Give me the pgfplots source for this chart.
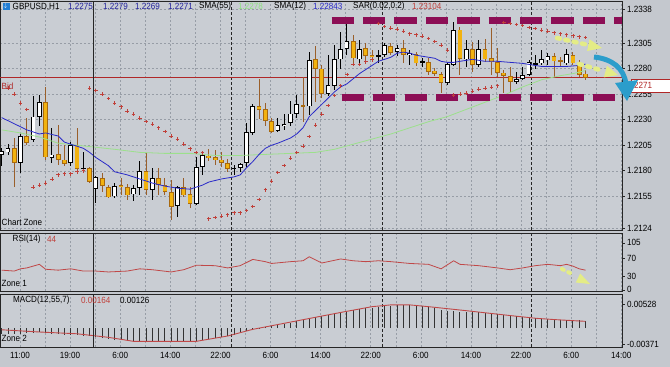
\documentclass[border=0pt]{standalone}
\usepackage{pgfplots}
\pgfplotsset{compat=1.18}
\usepackage{pgfplotstable}
\usepackage{fontspec}
\setmainfont[FakeStretch=0.9]{Liberation Sans}
\definecolor{bgout}{HTML}{C4C8CE}
\definecolor{bg}{HTML}{C9CDD3}
\definecolor{gridc}{HTML}{979DA6}
\definecolor{framec}{HTML}{262626}
\definecolor{bearfill}{HTML}{F2B20F}
\definecolor{bearedge}{HTML}{A8690F}
\definecolor{bearwick}{HTML}{9A5F2A}
\definecolor{sarc}{HTML}{C0403A}
\definecolor{smab}{HTML}{2A2AC8}
\definecolor{smag}{HTML}{9CE08C}
\definecolor{bidc}{HTML}{B02828}
\definecolor{magc}{HTML}{8C0E55}
\definecolor{yel}{HTML}{E4EC86}
\definecolor{arrowblue}{HTML}{2B9DCB}
\definecolor{rsic}{HTML}{C04848}
\definecolor{navy}{HTML}{23239E}

\pgfplotstableread{
i o h l c
0 1.2196 1.2202 1.2185 1.2199
1 1.2198 1.2206 1.2195 1.2202
3 1.2188 1.2216 1.2178 1.2214
5 1.2210 1.2253 1.2208 1.2233
6 1.2233 1.2254 1.2224 1.2247
8 1.2193 1.2222 1.2188 1.2196
11 1.2188 1.2208 1.2185 1.2205
13 1.2182 1.2198 1.2179 1.2183
15 1.2162 1.2175 1.2149 1.2174
18 1.2155 1.2168 1.2153 1.2165
21 1.2157 1.2166 1.2151 1.2163
22 1.2163 1.2190 1.2156 1.2180
24 1.2161 1.2183 1.2152 1.2173
28 1.2146 1.2165 1.2135 1.2164
31 1.2148 1.2194 1.2147 1.2184
32 1.2184 1.2197 1.2176 1.2195
37 1.2182 1.2186 1.2176 1.2183
38 1.2183 1.2188 1.2179 1.2187
39 1.2188 1.2227 1.2184 1.2218
40 1.2217 1.2245 1.2215 1.2243
44 1.2219 1.2232 1.2218 1.2225
45 1.2224 1.2236 1.2220 1.2226
46 1.2227 1.2248 1.2224 1.2236
47 1.2236 1.2254 1.2232 1.2245
49 1.2243 1.2296 1.2235 1.2288
52 1.2255 1.2293 1.2253 1.2264
53 1.2263 1.2303 1.2259 1.2289
54 1.2289 1.2316 1.2280 1.2299
55 1.2299 1.2325 1.2293 1.2307
57 1.2289 1.2308 1.2285 1.2299
60 1.2292 1.2298 1.2285 1.2293
61 1.2293 1.2305 1.2291 1.2303
63 1.2296 1.2303 1.2292 1.2300
65 1.2293 1.2298 1.2283 1.2295
67 1.2286 1.2290 1.2282 1.2287
71 1.2266 1.2286 1.2264 1.2284
72 1.2284 1.2325 1.2282 1.2318
74 1.2289 1.2308 1.2282 1.2299
76 1.2284 1.2308 1.2282 1.2299
82 1.2267 1.2277 1.2265 1.2270
83 1.2270 1.2282 1.2269 1.2274
84 1.2274 1.2288 1.2273 1.2286
85 1.2284 1.2293 1.2280 1.2285
86 1.2285 1.2298 1.2283 1.2289
87 1.2288 1.2295 1.2283 1.2292
90 1.2285 1.2299 1.2283 1.2294
}\bull

\pgfplotstableread{
i o h l c
2 1.2202 1.2212 1.2164 1.2188
4 1.2214 1.2232 1.2205 1.2207
7 1.2247 1.2262 1.2191 1.2193
9 1.2196 1.2225 1.2186 1.2191
10 1.2191 1.2205 1.2185 1.2187
12 1.2205 1.2222 1.2180 1.2182
14 1.2183 1.2184 1.2168 1.2169
16 1.2173 1.2178 1.2159 1.2165
17 1.2164 1.2166 1.2153 1.2154
19 1.2166 1.2173 1.2156 1.2164
20 1.2164 1.2167 1.2151 1.2156
23 1.2180 1.2197 1.2156 1.2161
25 1.2173 1.2183 1.2156 1.2166
26 1.2166 1.2173 1.2156 1.2159
27 1.2159 1.2171 1.2132 1.2145
29 1.2164 1.2173 1.2154 1.2156
30 1.2157 1.2164 1.2144 1.2148
33 1.2195 1.2201 1.2190 1.2193
34 1.2193 1.2200 1.2186 1.2191
35 1.2191 1.2198 1.2184 1.2188
36 1.2188 1.2192 1.2179 1.2182
41 1.2243 1.2270 1.2231 1.2240
42 1.2240 1.2246 1.2224 1.2229
43 1.2229 1.2232 1.2217 1.2218
48 1.2244 1.2272 1.2228 1.2243
50 1.2289 1.2302 1.2247 1.2280
51 1.2280 1.2283 1.2251 1.2255
56 1.2307 1.2313 1.2283 1.2290
58 1.2300 1.2305 1.2288 1.2292
59 1.2293 1.2298 1.2289 1.2291
62 1.2302 1.2305 1.2293 1.2295
64 1.2300 1.2308 1.2285 1.2293
66 1.2294 1.2296 1.2283 1.2285
68 1.2286 1.2290 1.2274 1.2277
69 1.2278 1.2281 1.2273 1.2275
70 1.2275 1.2277 1.2256 1.2266
73 1.2318 1.2321 1.2274 1.2289
75 1.2299 1.2306 1.2277 1.2284
77 1.2299 1.2309 1.2286 1.2289
78 1.2290 1.2320 1.2274 1.2286
79 1.2286 1.2300 1.2272 1.2276
80 1.2276 1.2279 1.2256 1.2273
81 1.2273 1.2282 1.2257 1.2267
88 1.2292 1.2295 1.2272 1.2287
89 1.2288 1.2291 1.2282 1.2287
91 1.2293 1.2296 1.2284 1.2285
92 1.2285 1.2288 1.2272 1.2274
93 1.2275 1.2279 1.2269 1.2271
}\bear

\pgfplotstableread{
i v
1 1.2261
2 1.2255
3 1.2246
4 1.2240
5 1.2164
6 1.2166
7 1.2168
8 1.2172
9 1.2176
10 1.2177
11 1.2177
12 1.2179
13 1.2180
14 1.2261
15 1.22585
16 1.2255
17 1.22505
18 1.2246
19 1.22425
20 1.22385
21 1.22355
22 1.22315
23 1.2228
24 1.22255
25 1.2222
26 1.22185
27 1.2214
28 1.2211
29 1.2206
30 1.22015
31 1.2198
32 1.21975
33 1.2133
34 1.21345
35 1.21355
36 1.2137
37 1.2139
38 1.2139
39 1.2141
40 1.2145
41 1.2152
42 1.21615
43 1.2170
44 1.21785
45 1.2185
46 1.21925
47 1.2198
48 1.2204
49 1.22135
50 1.22245
51 1.22355
52 1.2244
53 1.22535
54 1.2263
55 1.2274
56 1.2284
57 1.2284
58 1.22865
59 1.22885
60 1.2324
61 1.2321
62 1.23195
63 1.23185
64 1.23165
65 1.2314
66 1.2313
67 1.23115
68 1.23095
69 1.23065
70 1.2303
71 1.2298
72 1.2254
73 1.2255
74 1.2256
75 1.2258
76 1.2260
77 1.2261
78 1.2262
79 1.2263
80 1.2325
81 1.2324
82 1.2323
83 1.2322
84 1.2320
85 1.2319
86 1.23175
87 1.23165
88 1.2315
89 1.2314
90 1.2313
91 1.2312
92 1.2311
93 1.23104
}\sar

\pgfplotstableread{
i v
0 1.2232
2 1.2226
4 1.2220
6 1.2216
7 1.2217
9 1.2214
10 1.2208
12 1.2204
13 1.2202
14 1.2198
15 1.2193
17 1.2185
18 1.2179
20 1.2176
22 1.2172
24 1.2168
26 1.2165
28 1.2163
30 1.2162
31 1.2164
32 1.2166
33 1.2169
35 1.2172
37 1.2174
38 1.2176
39 1.2183
40 1.2189
41 1.2196
42 1.2202
43 1.2205
44 1.2207
46 1.2212
47 1.2216
48 1.2222
49 1.2233
50 1.2239
51 1.2245
52 1.2251
53 1.2257
54 1.2262
55 1.2265
56 1.2270
57 1.2275
58 1.2279
59 1.2283
60 1.2287
61 1.2289
62 1.2291
63 1.2295
64 1.2296
65 1.2295
66 1.2293
67 1.2292
69 1.2290
70 1.2287
71 1.2286
72 1.2286
73 1.2287
75 1.2289
77 1.2287
79 1.2287
81 1.2286
83 1.2285
85 1.2283
86 1.2282
88 1.2282
90 1.2282
92 1.2283
93 1.22843
}\smatw

\pgfplotstableread{
i v
0 1.2220
3 1.2217
6 1.2213
9 1.2207
12 1.2205
15 1.2203
18 1.2201
22 1.2198
26 1.2197
30 1.2197
34 1.2195
38 1.2195
42 1.2196
46 1.2197
50 1.2198
53 1.2201
56 1.2206
59 1.2211
62 1.2216
65 1.2222
68 1.2228
71 1.2233
74 1.2240
77 1.2247
80 1.2254
83 1.2262
86 1.2269
89 1.2273
91 1.2275
93 1.2278
}\smaff

\pgfplotstableread{
i v
0 44
2 42
3 47
4 49
6 57
7 46
9 44
11 47
13 42
15 42
17 40
20 42
22 47
24 45
27 40
29 45
31 55
34 54
36 49
38 54
40 68
42 63
43 59
46 63
48 65
49 74
51 60
54 69
56 65
58 63
60 65
62 63
65 59
68 57
70 47
72 65
73 57
76 54
79 49
81 45
83 49
85 54
87 57
89 54
90 57
91 53
92 47
93 44
}\rsi

\pgfplotstableread{
i v
0 -0.0013
1 -0.0013
2 -0.0014
3 -0.0013
4 -0.0012
5 -0.0011
6 -0.0010
7 -0.0012
8 -0.0013
9 -0.0014
10 -0.0015
11 -0.0015
12 -0.0016
13 -0.0017
14 -0.0019
15 -0.0021
16 -0.0023
17 -0.0025
18 -0.0027
19 -0.0028
20 -0.0029
21 -0.0030
22 -0.0030
23 -0.0030
24 -0.0031
25 -0.0031
26 -0.0031
27 -0.0032
28 -0.0031
29 -0.0031
30 -0.0031
31 -0.0029
32 -0.0026
33 -0.0024
34 -0.0022
35 -0.0020
36 -0.0018
37 -0.0015
38 -0.0012
39 -0.0007
40 -0.0002
41 0.0001
42 0.0003
43 0.0005
44 0.0007
45 0.0009
46 0.0012
47 0.0015
48 0.0017
49 0.0022
50 0.0025
51 0.0027
52 0.0029
53 0.0032
54 0.0035
55 0.0038
56 0.0040
57 0.0042
58 0.0044
59 0.0046
60 0.0047
61 0.0049
62 0.0050
63 0.0051
64 0.0052
65 0.0052
66 0.0051
67 0.0049
68 0.0047
69 0.0044
70 0.0041
71 0.0039
72 0.0039
73 0.0037
74 0.0036
75 0.0035
76 0.0035
77 0.0034
78 0.0034
79 0.0032
80 0.0030
81 0.0028
82 0.0026
83 0.0025
84 0.0024
85 0.0023
86 0.0022
87 0.0021
88 0.0020
89 0.0019
90 0.0018
91 0.0018
92 0.0017
93 0.00164
}\macd

\pgfplotstableread{
i v
0 -0.0004
6 -0.0009
12 -0.0013
17 -0.0021
21 -0.0030
31 -0.0030
36 -0.0018
40 -0.0003
47 0.0016
54 0.0035
59 0.0048
62 0.0052
65 0.0052
68 0.0048
74 0.0039
81 0.0028
85 0.0022
88 0.0019
93 0.0015
}\signal

\pgfplotsset{
  panel/.style={
    scale only axis, width=622pt, xmin=-0.271, xmax=98.82,
    axis line style={framec, line width=0.8pt},
    axis background/.style={fill=bg},
    xtick={2.915,10.897,18.879,26.861,34.843,42.825,50.807,58.789,66.771,74.753,82.735,90.717,98.699},
    minor x tick num=1,
    xmajorgrids, xminorgrids,
    major grid style={gridc, dash pattern=on 2pt off 2pt, line width=0.5pt},
    minor grid style={gridc, dash pattern=on 2pt off 2pt, line width=0.5pt},
    ytick pos=right, yticklabel pos=right,
    tick align=outside, major tick length=3pt, minor tick length=0pt,
    x tick style={draw=none},
    y tick style={framec, line width=0.6pt},
    yticklabel style={font=\fontsize{9}{10}\selectfont, xshift=-1.5pt},
    xticklabels={},
    scaled y ticks=false,
    extra x ticks={36.53,60.59,84.33},
    extra x tick labels={},
    extra x tick style={grid=major, major grid style={black!85, dash pattern=on 3pt off 2pt, line width=0.7pt}, tick style={draw=none}},
  },
  wick/.style={draw=none, forget plot, error bars/.cd, y dir=both, y explicit, error mark=none},
}

\begin{document}
\begin{tikzpicture}
\fill[bgout] (0,0) rectangle (670pt,-367pt);
\path[use as bounding box] (0,0) rectangle (670pt,-367pt);

% ---------- main price panel ----------
\begin{axis}[panel, at={(0pt,-1pt)}, anchor=north west, height=229pt,
  ymin=1.21221, ymax=1.23460,
  ytick={1.2338,1.2305,1.2280,1.2255,1.2230,1.2205,1.2180,1.2155,1.2124},
  yticklabels={1.2338,1.2305,1.2280,1.2255,1.2230,1.2205,1.2180,1.2155,1.2124},
  ymajorgrids]
\addplot[bidc, line width=0.7pt, forget plot] coordinates {(-0.271,1.2271) (98.82,1.2271)};
% wicks
\addplot[wick, error bar style={draw=black, line width=0.9pt}] table[x=i, y expr={(\thisrow{h}+\thisrow{l})/2}, y error expr={(\thisrow{h}-\thisrow{l})/2}] {\bull};
\addplot[wick, error bar style={draw=bearwick, line width=0.9pt}] table[x=i, y expr={(\thisrow{h}+\thisrow{l})/2}, y error expr={(\thisrow{h}-\thisrow{l})/2}] {\bear};
% bodies
\addplot[wick, error bar style={draw=black, line width=4.6pt}] table[x=i, y expr={(\thisrow{o}+\thisrow{c})/2}, y error expr={max(abs(\thisrow{c}-\thisrow{o})/2,0.00006)}] {\bull};
\addplot[wick, error bar style={draw=white, line width=3.0pt}] table[x=i, y expr={(\thisrow{o}+\thisrow{c})/2}, y error expr={max(abs(\thisrow{c}-\thisrow{o})/2-0.00008,0)}] {\bull};
\addplot[wick, error bar style={draw=bearedge, line width=4.8pt}] table[x=i, y expr={(\thisrow{o}+\thisrow{c})/2}, y error expr={max(abs(\thisrow{c}-\thisrow{o})/2,0.00006)}] {\bear};
\addplot[wick, error bar style={draw=bearfill, line width=3.2pt}] table[x=i, y expr={(\thisrow{o}+\thisrow{c})/2}, y error expr={max(abs(\thisrow{c}-\thisrow{o})/2-0.00008,0)}] {\bear};
% indicators
\addplot[smag, line width=0.8pt] table[x=i, y=v] {\smaff};
\addplot[smab, line width=0.8pt] table[x=i, y=v] {\smatw};
\addplot[only marks, mark=+, mark size=1.8pt, sarc, mark options={line width=0.8pt}] table[x=i, y=v] {\sar};
% channel lines
\addplot[magc, line width=7pt, dash pattern=on 22.3pt off 9.1pt] coordinates {(52.57,1.23265) (98.82,1.23265)};
\addplot[magc, line width=7pt, dash pattern=on 22.3pt off 9.1pt] coordinates {(54.17,1.22515) (97.90,1.22515)};
\draw[black!85, line width=0.9pt] (axis cs:14.55,1.21221) -- (axis cs:14.55,1.23460);
\end{axis}

% ---------- RSI panel ----------
\begin{axis}[panel, at={(0pt,-233pt)}, anchor=north west, height=58.2pt,
  ymin=-3, ymax=127, ytick={0,30,70,105}, yticklabels={0,30,70,105}]
\addplot[rsic, line width=0.8pt] table[x=i, y=v] {\rsi};
\draw[black!85, line width=0.9pt] (axis cs:14.55,-3) -- (axis cs:14.55,127);
\end{axis}

% ---------- MACD panel ----------
\begin{axis}[panel, at={(0pt,-294pt)}, anchor=north west, height=53pt,
  ymin=-0.004275, ymax=0.00765, ytick={0.00528,-0.00371}, yticklabels={0.00528,-0.00371},
  x tick style={framec, line width=0.6pt}, xtick pos=bottom,
  xticklabels={11:00,19:00,6:00,14:00,22:00,6:00,14:00,22:00,6:00,14:00,22:00,6:00,14:00},
  xticklabel style={font=\fontsize{9}{10}\selectfont, yshift=1pt}]
\addplot[ycomb, black!80, line width=0.9pt] table[x=i, y=v] {\macd};
\addplot[rsic, line width=0.9pt] table[x=i, y=v] {\signal};
\draw[black!85, line width=0.9pt] (axis cs:14.55,-0.004275) -- (axis cs:14.55,0.00765);
\end{axis}

% ---------- texts ----------
\begin{scope}[every node/.style={inner sep=0pt, anchor=west, font=\fontsize{9}{10}\selectfont}]
\fill[arrowblue!80!blue] (2.5pt,-2.5pt) rectangle (10pt,-10pt);
\node[white, font=\fontsize{6}{6}\selectfont] at (3.5pt,-6.3pt) {$\downarrow$};
\node at (12.5pt,-6.5pt) {GBPUSD,H1};
\node[navy] at (68pt,-6.5pt) {1.2275};
\node[navy] at (103pt,-6.5pt) {1.2279};
\node[navy] at (135pt,-6.5pt) {1.2269};
\node[navy] at (168pt,-6.5pt) {1.2271};
\node at (199pt,-6.5pt) {SMA(55)};
\node[smag!90!green] at (238pt,-6.5pt) {1.2278};
\node at (274pt,-6.5pt) {SMA(12)};
\node[smab] at (313pt,-6.5pt) {1.22843};
\node at (353pt,-6.5pt) {SAR(0.02,0.2)};
\node[sarc] at (412pt,-6.5pt) {1.23104};
\node[bidc] at (1.5pt,-86pt) {Bid};
\node at (1.5pt,-222.5pt) {Chart Zone};
\node at (12.5pt,-239.5pt) {RSI(14)};
\node[sarc] at (47pt,-239.5pt) {44};
\node at (1.5pt,-283pt) {Zone 1};
\node at (13pt,-300pt) {MACD(12,55,7)};
\node[sarc] at (81pt,-300pt) {0.00164};
\node at (120pt,-300pt) {0.00126};
\node at (1.5pt,-338pt) {Zone 2};
\end{scope}

% price box
\draw[fill=white, draw=bidc, line width=0.7pt] (631pt,-79pt) rectangle (671pt,-92pt);
\node[bidc, inner sep=0pt, anchor=west, font=\fontsize{9}{10}\selectfont] at (634pt,-85.5pt) {2271};

% yellow dotted arrows
\draw[yel, line width=4.5pt, line cap=round, dash pattern=on 3pt off 5.5pt] (557pt,-38pt) -- (586pt,-44.5pt);
\fill[yel] (589.5pt,-39.2pt) -- (602pt,-48pt) -- (587.1pt,-51pt) -- cycle;
\draw[yel, line width=4.5pt, line cap=round, dash pattern=on 3pt off 5.5pt] (579pt,-64pt) -- (602pt,-70.5pt);
\fill[yel] (607pt,-65.8pt) -- (618pt,-75pt) -- (603.8pt,-77.4pt) -- cycle;
\draw[yel, line width=4pt, line cap=round, dash pattern=on 2pt off 5pt] (562pt,-269pt) -- (574pt,-275pt);
\fill[yel] (580.2pt,-273.5pt) -- (590pt,-284pt) -- (575.8pt,-282.5pt) -- cycle;

% blue curved arrow
\draw[arrowblue, line width=5pt] (594pt,-57pt) .. controls (612pt,-59pt) and (624pt,-68pt) .. (626pt,-84pt);
\fill[arrowblue] (615pt,-83pt) -- (638pt,-80pt) -- (627pt,-101pt) -- cycle;
\end{tikzpicture}
\end{document}
